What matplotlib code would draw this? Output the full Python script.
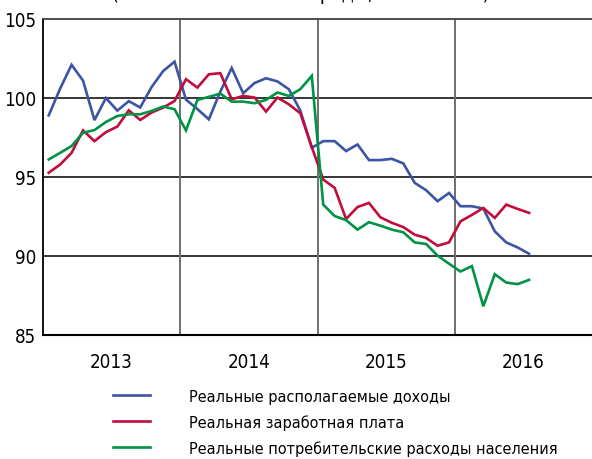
import numpy as np
import pandas as pd
import matplotlib
matplotlib.use("Agg")
import matplotlib.pyplot as plt

plt.rcParams['font.family'] = ['DejaVu Sans']
plt.rcParams['font.stretch'] = 'condensed'

# monthly indices, Jan 2013 - Jul 2016
months = pd.date_range("2013-01-01", "2016-07-01", freq="MS")
years = ["2013", "2014", "2015", "2016"]

income = [98.9, 100.6, 102.1, 101.1, 98.6, 100.0, 99.2, 99.8, 99.4, 100.7, 101.7, 102.3,
          99.9, 99.3, 98.65, 100.4, 101.9, 100.3, 100.95, 101.25, 101.05, 100.55, 99.2, 96.85,
          97.27, 97.27, 96.64, 97.06, 96.07, 96.07, 96.15, 95.86, 94.63, 94.16, 93.47, 93.99,
          93.15, 93.15, 93.0, 91.56, 90.86, 90.54, 90.14]
wages = [95.27, 95.79, 96.53, 97.95, 97.27, 97.84, 98.19, 99.22, 98.61, 99.08, 99.39, 99.81,
         101.19, 100.66, 101.5, 101.57, 99.92, 100.13, 100.03, 99.14, 100.03, 99.6, 99.03, 96.9,
         94.84, 94.31, 92.34, 93.1, 93.36, 92.45, 92.1, 91.83, 91.35, 91.14, 90.65, 90.86,
         92.19, 92.6, 93.04, 92.41, 93.25, 92.98, 92.73]
spending = [96.11, 96.53, 96.96, 97.8, 97.97, 98.48, 98.86, 98.97, 98.97, 99.18, 99.46, 99.29,
            97.95, 99.88, 100.07, 100.28, 99.77, 99.77, 99.67, 99.88, 100.35, 100.13, 100.56, 101.4,
            93.25, 92.53, 92.27, 91.67, 92.14, 91.92, 91.67, 91.5, 90.86, 90.76, 90.02, 89.51,
            89.02, 89.36, 86.82, 88.85, 88.32, 88.22, 88.49]

labels = ["Реальные располагаемые доходы",
          "Реальная заработная плата",
          "Реальные потребительские расходы населения"]
colors = ["#3b54a4", "#c00d3c", "#009245"]

fig = plt.figure(figsize=(5.92, 4.60), dpi=100)
ax = fig.add_axes([43 / 592, 1 - 336 / 460, 1 - 43 / 592, 316 / 460])

x = np.arange(len(months))
for series, lab, col in zip([income, wages, spending], labels, colors):
    ax.plot(x, series, color=col, lw=1.9, label=lab, solid_joinstyle='miter', zorder=3)

ax.set_xlim(-0.5, 47.5)
ax.set_ylim(85, 105)
ax.set_yticks([85, 90, 95, 100, 105])
for yv in [90, 95, 100]:
    ax.axhline(yv, color="black", lw=1.1, zorder=1)
for k in range(1, 4):
    ax.axvline(12 * k - 0.5, color="#707070", lw=1.4, zorder=1)

ax.set_xticks([12 * k + 5.5 for k in range(4)])
ax.set_xticklabels(years)
ax.tick_params(axis='both', length=0, labelsize=13.5)
ax.tick_params(axis='x', pad=12)
ax.tick_params(axis='y', pad=5)

ax.spines['right'].set_visible(False)
ax.spines['left'].set_color("black")
ax.spines['left'].set_linewidth(1.3)
ax.spines['bottom'].set_color("black")
ax.spines['bottom'].set_linewidth(1.5)
ax.spines['top'].set_color("#404040")
ax.spines['top'].set_linewidth(1.3)

# cut-off subtitle at the very top (only descenders visible)
fig.text(0.19, 1.0, "(сезонно сглаженные ряды, 2013 = 100)", fontsize=14,
         va='baseline', ha='left')

fig.legend(loc='upper left', bbox_to_anchor=(113 / 592, 1 - 390 / 460), frameon=False,
           fontsize=11.6, handlelength=2.3, handletextpad=2.4, labelspacing=0.63,
           borderpad=0, borderaxespad=0)

fig.savefig("out.png", dpi=100)
